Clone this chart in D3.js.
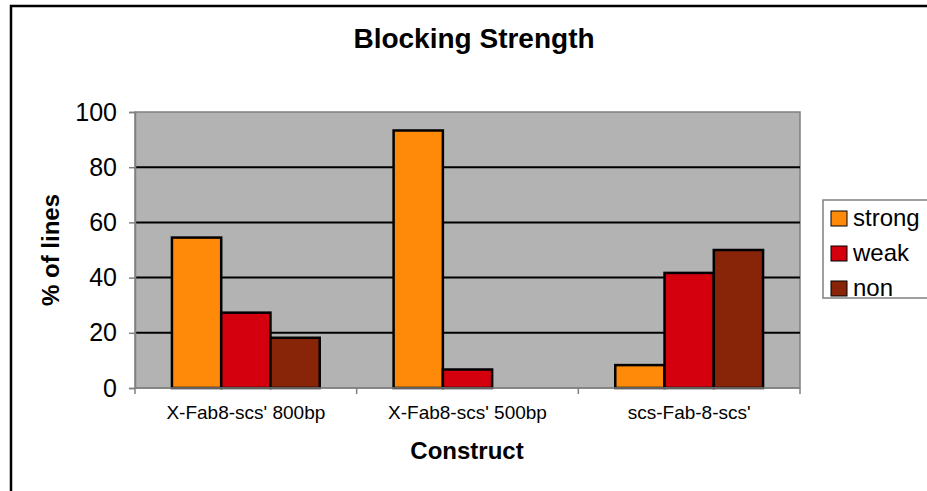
<!DOCTYPE html>
<html>
<head>
<meta charset="utf-8">
<script src="https://cdn.jsdelivr.net/npm/d3@7"></script>
<style>
  html, body { margin: 0; padding: 0; background: #fff; }
  svg { display: block; font-family: "Liberation Sans", Arial, sans-serif; }
</style>
</head>
<body>
<svg id="chart" width="927" height="491"></svg>
<script>
// Blocking strength per construct, percent of lines
const constructs = ["X-Fab8-scs' 800bp", "X-Fab8-scs' 500bp", "scs-Fab-8-scs'"];
const seriesNames = ["strong", "weak", "non"];
const strong = [54.5, 93.3, 8.3];
const weak = [27.3, 6.7, 41.7];
const non = [18.2, 0, 50];
const yTicks = [0, 20, 40, 60, 80, 100];
const colors = ["#FF8A0A", "#D4000E", "#882408"];

const values = [strong, weak, non];
const svg = d3.select("#chart");

// Outer frame
svg.append("rect")
  .attr("x", 11).attr("y", 6).attr("width", 930).attr("height", 500)
  .attr("fill", "#fff").attr("stroke", "#000").attr("stroke-width", 2.5);

const plot = { left: 135, right: 800, top: 112, bottom: 388 };

const x0 = d3.scaleBand().domain(constructs)
  .range([plot.left, plot.right]).paddingInner(0).paddingOuter(0);
const x1 = d3.scaleBand().domain(seriesNames)
  .range([0, x0.bandwidth()]).paddingInner(0).paddingOuter(0.75);
const y = d3.scaleLinear().domain([0, 100]).range([plot.bottom, plot.top]);

// Plot background
svg.append("rect")
  .attr("x", plot.left).attr("y", plot.top)
  .attr("width", plot.right - plot.left).attr("height", plot.bottom - plot.top)
  .attr("fill", "#B3B3B3").attr("stroke", "#808080").attr("stroke-width", 1.5);

// Gridlines
svg.append("g").selectAll("line")
  .data(yTicks.filter(t => t > 0 && t < 100))
  .join("line")
  .attr("x1", plot.left).attr("x2", plot.right)
  .attr("y1", d => y(d)).attr("y2", d => y(d))
  .attr("stroke", "#000").attr("stroke-width", 2);

// Bars
const groups = svg.append("g").selectAll("g")
  .data(constructs)
  .join("g")
  .attr("transform", d => `translate(${x0(d)},0)`);

groups.selectAll("rect")
  .data((d, i) => seriesNames.map((s, j) => ({ s, v: values[j][i], j })))
  .join("rect")
  .filter(d => d.v > 0)
  .attr("x", d => x1(d.s))
  .attr("width", x1.bandwidth())
  .attr("y", d => y(d.v))
  .attr("height", d => y(0) - y(d.v))
  .attr("fill", d => colors[d.j])
  .attr("stroke", "#000").attr("stroke-width", 2.5);

// Y axis
const yAxis = svg.append("g")
  .attr("transform", `translate(${plot.left},0)`)
  .call(d3.axisLeft(y).tickValues(yTicks).tickSize(6).tickPadding(12));
yAxis.select(".domain").attr("stroke", "#808080").attr("stroke-width", 1.5);
yAxis.selectAll(".tick line").attr("stroke", "#808080").attr("stroke-width", 1.5);
yAxis.selectAll(".tick text")
  .attr("font-size", 25).attr("fill", "#000")
  .attr("font-family", "Liberation Sans, Arial, sans-serif");

// X axis: category boundaries ticked below the plot
const xAxisG = svg.append("g").attr("transform", `translate(0,${plot.bottom})`);
xAxisG.append("line")
  .attr("x1", plot.left).attr("x2", plot.right)
  .attr("stroke", "#808080").attr("stroke-width", 1.5);
xAxisG.selectAll("line.tk")
  .data(d3.range(constructs.length + 1))
  .join("line").attr("class", "tk")
  .attr("x1", i => plot.left + i * x0.step()).attr("x2", i => plot.left + i * x0.step())
  .attr("y1", 0).attr("y2", 6)
  .attr("stroke", "#808080").attr("stroke-width", 1.5);
xAxisG.selectAll("text")
  .data(constructs)
  .join("text")
  .attr("x", d => x0(d) + x0.bandwidth() / 2)
  .attr("y", 31)
  .attr("text-anchor", "middle")
  .attr("font-size", 19)
  .text(d => d);

// Titles
svg.append("text")
  .attr("x", 474).attr("y", 48)
  .attr("text-anchor", "middle")
  .attr("font-size", 28).attr("font-weight", "bold")
  .text("Blocking Strength");

svg.append("text")
  .attr("x", 467).attr("y", 459)
  .attr("text-anchor", "middle")
  .attr("font-size", 24).attr("font-weight", "bold")
  .text("Construct");

svg.append("text")
  .attr("transform", `translate(59,${(plot.top + plot.bottom) / 2}) rotate(-90)`)
  .attr("text-anchor", "middle")
  .attr("font-size", 24).attr("font-weight", "bold")
  .text("% of lines");

// Legend
const legend = svg.append("g");
legend.append("rect")
  .attr("x", 823).attr("y", 200).attr("width", 120).attr("height", 98)
  .attr("fill", "#fff").attr("stroke", "#808080").attr("stroke-width", 1.5);
const items = legend.selectAll("g.item")
  .data(seriesNames)
  .join("g").attr("class", "item")
  .attr("transform", (d, i) => `translate(831,${211 + i * 35})`);
items.append("rect")
  .attr("width", 16).attr("height", 15)
  .attr("fill", (d, i) => colors[i])
  .attr("stroke", "#000").attr("stroke-width", 1);
items.append("text")
  .attr("x", 22).attr("y", 15)
  .attr("font-size", 24)
  .text(d => d);
</script>
</body>
</html>
